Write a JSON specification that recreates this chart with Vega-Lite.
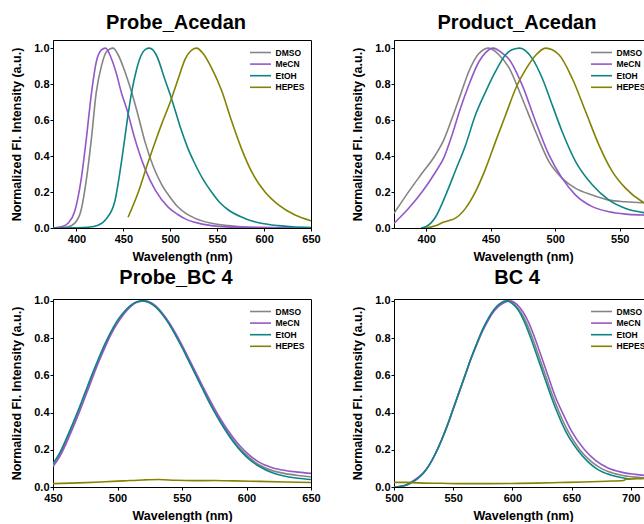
{
  "$schema": "https://vega.github.io/schema/vega-lite/v6.json",
  "padding": {"left": 10, "top": 12, "right": 0, "bottom": 0},
  "background": "white",
  "config": {
    "view": {"stroke": "black", "strokeWidth": 1},
    "font": "Liberation Sans",
    "axis": {
      "labelFont": "Liberation Sans", "labelFontWeight": "bold", "labelFontSize": 11, "labelColor": "black",
      "titleFont": "Liberation Sans", "titleFontWeight": "bold", "titleFontSize": 12.5, "titleColor": "black",
      "domainColor": "black", "tickColor": "black", "tickSize": 3, "grid": false, "labelPadding": 2,
      "labelFlush": false, "labelOverlap": false, "labelBound": false
    },
    "axisX": {"titlePadding": 6},
    "axisY": {"titlePadding": 10, "labelPadding": 1},
    "title": {"font": "Liberation Sans", "fontSize": 20, "fontWeight": "bold", "color": "black", "anchor": "middle", "frame": "group", "baseline": "alphabetic", "offset": 7, "dx": -6},
    "legend": {
      "orient": "top-right", "offset": 6, "padding": 0, "title": null,
      "symbolType": "M-2,0H2", "symbolSize": 110, "symbolStrokeWidth": 1.6,
      "labelFont": "Liberation Sans", "labelFontWeight": "bold", "labelFontSize": 8.5, "labelColor": "black",
      "labelOffset": 8.5, "rowPadding": 0.6
    },
    "line": {"strokeWidth": 1.6}
  },
  "datasets": {
    "A": [
      {"w":375,"v":0,"s":"DMSO"},{"w":390,"v":0.005,"s":"DMSO"},{"w":398,"v":0.026,"s":"DMSO"},{"w":405,"v":0.1,"s":"DMSO"},{"w":410.6,"v":0.27,"s":"DMSO"},{"w":416,"v":0.5,"s":"DMSO"},{"w":421,"v":0.75,"s":"DMSO"},{"w":426.6,"v":0.9,"s":"DMSO"},{"w":432,"v":0.98,"s":"DMSO"},{"w":439,"v":1.0,"s":"DMSO"},{"w":444.4,"v":0.963,"s":"DMSO"},{"w":451.6,"v":0.87,"s":"DMSO"},{"w":458.7,"v":0.757,"s":"DMSO"},{"w":466,"v":0.62,"s":"DMSO"},{"w":473,"v":0.48,"s":"DMSO"},{"w":482,"v":0.34,"s":"DMSO"},{"w":491,"v":0.24,"s":"DMSO"},{"w":500,"v":0.17,"s":"DMSO"},{"w":508,"v":0.118,"s":"DMSO"},{"w":517,"v":0.08,"s":"DMSO"},{"w":526,"v":0.055,"s":"DMSO"},{"w":544,"v":0.026,"s":"DMSO"},{"w":562,"v":0.013,"s":"DMSO"},{"w":580,"v":0.005,"s":"DMSO"},{"w":620,"v":0.001,"s":"DMSO"},{"w":650,"v":0,"s":"DMSO"},
      {"w":375,"v":0,"s":"MeCN"},{"w":385,"v":0.008,"s":"MeCN"},{"w":391,"v":0.026,"s":"MeCN"},{"w":398,"v":0.09,"s":"MeCN"},{"w":405,"v":0.27,"s":"MeCN"},{"w":410.6,"v":0.5,"s":"MeCN"},{"w":416,"v":0.75,"s":"MeCN"},{"w":421,"v":0.92,"s":"MeCN"},{"w":426.6,"v":0.99,"s":"MeCN"},{"w":431,"v":1.0,"s":"MeCN"},{"w":437,"v":0.945,"s":"MeCN"},{"w":443,"v":0.85,"s":"MeCN"},{"w":448,"v":0.75,"s":"MeCN"},{"w":454,"v":0.655,"s":"MeCN"},{"w":462,"v":0.5,"s":"MeCN"},{"w":473,"v":0.33,"s":"MeCN"},{"w":484,"v":0.21,"s":"MeCN"},{"w":498,"v":0.115,"s":"MeCN"},{"w":508,"v":0.075,"s":"MeCN"},{"w":517,"v":0.048,"s":"MeCN"},{"w":526,"v":0.032,"s":"MeCN"},{"w":544,"v":0.013,"s":"MeCN"},{"w":560,"v":0.006,"s":"MeCN"},{"w":600,"v":0.002,"s":"MeCN"},{"w":650,"v":0,"s":"MeCN"},
      {"w":375,"v":0,"s":"EtOH"},{"w":400,"v":0.001,"s":"EtOH"},{"w":412,"v":0.004,"s":"EtOH"},{"w":423,"v":0.015,"s":"EtOH"},{"w":432,"v":0.052,"s":"EtOH"},{"w":441,"v":0.15,"s":"EtOH"},{"w":446,"v":0.3,"s":"EtOH"},{"w":451,"v":0.48,"s":"EtOH"},{"w":455,"v":0.63,"s":"EtOH"},{"w":459,"v":0.76,"s":"EtOH"},{"w":464,"v":0.88,"s":"EtOH"},{"w":469,"v":0.96,"s":"EtOH"},{"w":473.5,"v":0.993,"s":"EtOH"},{"w":478,"v":1.0,"s":"EtOH"},{"w":485,"v":0.963,"s":"EtOH"},{"w":494,"v":0.83,"s":"EtOH"},{"w":500,"v":0.74,"s":"EtOH"},{"w":506,"v":0.64,"s":"EtOH"},{"w":512,"v":0.54,"s":"EtOH"},{"w":519,"v":0.44,"s":"EtOH"},{"w":526,"v":0.36,"s":"EtOH"},{"w":535,"v":0.27,"s":"EtOH"},{"w":544,"v":0.2,"s":"EtOH"},{"w":553,"v":0.14,"s":"EtOH"},{"w":562,"v":0.1,"s":"EtOH"},{"w":580,"v":0.052,"s":"EtOH"},{"w":597,"v":0.026,"s":"EtOH"},{"w":615,"v":0.013,"s":"EtOH"},{"w":630,"v":0.007,"s":"EtOH"},{"w":650,"v":0.003,"s":"EtOH"},
      {"w":455,"v":0.06,"s":"HEPES"},{"w":466,"v":0.2,"s":"HEPES"},{"w":476,"v":0.36,"s":"HEPES"},{"w":484,"v":0.48,"s":"HEPES"},{"w":491,"v":0.58,"s":"HEPES"},{"w":500,"v":0.7,"s":"HEPES"},{"w":508.5,"v":0.83,"s":"HEPES"},{"w":516,"v":0.94,"s":"HEPES"},{"w":522,"v":0.985,"s":"HEPES"},{"w":528,"v":1.0,"s":"HEPES"},{"w":535,"v":0.97,"s":"HEPES"},{"w":544,"v":0.89,"s":"HEPES"},{"w":555,"v":0.76,"s":"HEPES"},{"w":565,"v":0.6,"s":"HEPES"},{"w":576,"v":0.44,"s":"HEPES"},{"w":587,"v":0.31,"s":"HEPES"},{"w":601,"v":0.2,"s":"HEPES"},{"w":615,"v":0.13,"s":"HEPES"},{"w":633,"v":0.072,"s":"HEPES"},{"w":650,"v":0.04,"s":"HEPES"}
    ],
    "B": [
      {"w":375,"v":0.081,"s":"DMSO"},{"w":386.4,"v":0.202,"s":"DMSO"},{"w":396.7,"v":0.304,"s":"DMSO"},{"w":407.1,"v":0.406,"s":"DMSO"},{"w":413.6,"v":0.49,"s":"DMSO"},{"w":420,"v":0.61,"s":"DMSO"},{"w":426.5,"v":0.74,"s":"DMSO"},{"w":433,"v":0.87,"s":"DMSO"},{"w":440.8,"v":0.97,"s":"DMSO"},{"w":448.5,"v":1.0,"s":"DMSO"},{"w":456.3,"v":0.963,"s":"DMSO"},{"w":464,"v":0.893,"s":"DMSO"},{"w":474.4,"v":0.72,"s":"DMSO"},{"w":484.8,"v":0.535,"s":"DMSO"},{"w":495.1,"v":0.369,"s":"DMSO"},{"w":505.4,"v":0.276,"s":"DMSO"},{"w":515.8,"v":0.22,"s":"DMSO"},{"w":528.7,"v":0.183,"s":"DMSO"},{"w":541.7,"v":0.155,"s":"DMSO"},{"w":554.6,"v":0.146,"s":"DMSO"},{"w":567.5,"v":0.14,"s":"DMSO"},{"w":580,"v":0.136,"s":"DMSO"},
      {"w":375,"v":0.026,"s":"MeCN"},{"w":386.4,"v":0.11,"s":"MeCN"},{"w":396.7,"v":0.2,"s":"MeCN"},{"w":407.1,"v":0.31,"s":"MeCN"},{"w":413.6,"v":0.39,"s":"MeCN"},{"w":420,"v":0.517,"s":"MeCN"},{"w":426.5,"v":0.665,"s":"MeCN"},{"w":433,"v":0.795,"s":"MeCN"},{"w":440.8,"v":0.924,"s":"MeCN"},{"w":446,"v":0.975,"s":"MeCN"},{"w":452,"v":1.0,"s":"MeCN"},{"w":458.9,"v":0.972,"s":"MeCN"},{"w":464,"v":0.94,"s":"MeCN"},{"w":474.4,"v":0.794,"s":"MeCN"},{"w":484.8,"v":0.591,"s":"MeCN"},{"w":495.1,"v":0.406,"s":"MeCN"},{"w":505.4,"v":0.276,"s":"MeCN"},{"w":515.8,"v":0.183,"s":"MeCN"},{"w":528.7,"v":0.119,"s":"MeCN"},{"w":541.7,"v":0.09,"s":"MeCN"},{"w":554.6,"v":0.077,"s":"MeCN"},{"w":567.5,"v":0.072,"s":"MeCN"},{"w":580,"v":0.069,"s":"MeCN"},
      {"w":396,"v":0,"s":"EtOH"},{"w":400,"v":0.008,"s":"EtOH"},{"w":407.1,"v":0.06,"s":"EtOH"},{"w":414.9,"v":0.18,"s":"EtOH"},{"w":422.7,"v":0.32,"s":"EtOH"},{"w":430.4,"v":0.459,"s":"EtOH"},{"w":438.2,"v":0.63,"s":"EtOH"},{"w":446,"v":0.757,"s":"EtOH"},{"w":453.7,"v":0.87,"s":"EtOH"},{"w":461.5,"v":0.963,"s":"EtOH"},{"w":467,"v":0.992,"s":"EtOH"},{"w":472.5,"v":1.0,"s":"EtOH"},{"w":482.1,"v":0.943,"s":"EtOH"},{"w":490,"v":0.831,"s":"EtOH"},{"w":497.7,"v":0.683,"s":"EtOH"},{"w":505.4,"v":0.535,"s":"EtOH"},{"w":515.8,"v":0.369,"s":"EtOH"},{"w":528.7,"v":0.24,"s":"EtOH"},{"w":541.7,"v":0.155,"s":"EtOH"},{"w":554.6,"v":0.109,"s":"EtOH"},{"w":567.5,"v":0.087,"s":"EtOH"},{"w":580,"v":0.076,"s":"EtOH"},
      {"w":400,"v":0,"s":"HEPES"},{"w":407.1,"v":0.012,"s":"HEPES"},{"w":413.6,"v":0.033,"s":"HEPES"},{"w":418,"v":0.042,"s":"HEPES"},{"w":422.7,"v":0.055,"s":"HEPES"},{"w":430.4,"v":0.109,"s":"HEPES"},{"w":438.2,"v":0.202,"s":"HEPES"},{"w":446,"v":0.33,"s":"HEPES"},{"w":453.7,"v":0.48,"s":"HEPES"},{"w":461.5,"v":0.628,"s":"HEPES"},{"w":470.5,"v":0.795,"s":"HEPES"},{"w":477,"v":0.88,"s":"HEPES"},{"w":484.8,"v":0.96,"s":"HEPES"},{"w":492.5,"v":1.0,"s":"HEPES"},{"w":502.9,"v":0.963,"s":"HEPES"},{"w":513.2,"v":0.831,"s":"HEPES"},{"w":523.6,"v":0.646,"s":"HEPES"},{"w":533.9,"v":0.461,"s":"HEPES"},{"w":544.3,"v":0.313,"s":"HEPES"},{"w":554.6,"v":0.22,"s":"HEPES"},{"w":567.5,"v":0.146,"s":"HEPES"},{"w":580,"v":0.11,"s":"HEPES"}
    ],
    "C": [
      {"w":450,"v":0.118,"s":"DMSO"},{"w":455,"v":0.172,"s":"DMSO"},{"w":460,"v":0.245,"s":"DMSO"},{"w":465,"v":0.325,"s":"DMSO"},{"w":470,"v":0.41,"s":"DMSO"},{"w":475,"v":0.5,"s":"DMSO"},{"w":480,"v":0.59,"s":"DMSO"},{"w":485,"v":0.677,"s":"DMSO"},{"w":490,"v":0.758,"s":"DMSO"},{"w":495,"v":0.83,"s":"DMSO"},{"w":500,"v":0.89,"s":"DMSO"},{"w":505,"v":0.937,"s":"DMSO"},{"w":510,"v":0.973,"s":"DMSO"},{"w":515,"v":0.994,"s":"DMSO"},{"w":520,"v":1.0,"s":"DMSO"},{"w":525,"v":0.99,"s":"DMSO"},{"w":530,"v":0.966,"s":"DMSO"},{"w":535,"v":0.927,"s":"DMSO"},{"w":540,"v":0.878,"s":"DMSO"},{"w":545,"v":0.819,"s":"DMSO"},{"w":550,"v":0.755,"s":"DMSO"},{"w":555,"v":0.686,"s":"DMSO"},{"w":560,"v":0.616,"s":"DMSO"},{"w":565,"v":0.546,"s":"DMSO"},{"w":570,"v":0.478,"s":"DMSO"},{"w":575,"v":0.413,"s":"DMSO"},{"w":580,"v":0.353,"s":"DMSO"},{"w":585,"v":0.298,"s":"DMSO"},{"w":590,"v":0.249,"s":"DMSO"},{"w":595,"v":0.207,"s":"DMSO"},{"w":600,"v":0.171,"s":"DMSO"},{"w":610,"v":0.118,"s":"DMSO"},{"w":620,"v":0.088,"s":"DMSO"},{"w":630,"v":0.072,"s":"DMSO"},{"w":640,"v":0.062,"s":"DMSO"},{"w":650,"v":0.055,"s":"DMSO"},
      {"w":450,"v":0.11,"s":"MeCN"},{"w":455,"v":0.16,"s":"MeCN"},{"w":460,"v":0.23,"s":"MeCN"},{"w":465,"v":0.31,"s":"MeCN"},{"w":470,"v":0.395,"s":"MeCN"},{"w":475,"v":0.485,"s":"MeCN"},{"w":480,"v":0.575,"s":"MeCN"},{"w":485,"v":0.665,"s":"MeCN"},{"w":490,"v":0.745,"s":"MeCN"},{"w":495,"v":0.82,"s":"MeCN"},{"w":500,"v":0.88,"s":"MeCN"},{"w":505,"v":0.93,"s":"MeCN"},{"w":510,"v":0.968,"s":"MeCN"},{"w":515,"v":0.992,"s":"MeCN"},{"w":521,"v":1.0,"s":"MeCN"},{"w":526,"v":0.99,"s":"MeCN"},{"w":530,"v":0.97,"s":"MeCN"},{"w":535,"v":0.932,"s":"MeCN"},{"w":540,"v":0.884,"s":"MeCN"},{"w":545,"v":0.826,"s":"MeCN"},{"w":550,"v":0.762,"s":"MeCN"},{"w":555,"v":0.694,"s":"MeCN"},{"w":560,"v":0.625,"s":"MeCN"},{"w":565,"v":0.556,"s":"MeCN"},{"w":570,"v":0.488,"s":"MeCN"},{"w":575,"v":0.424,"s":"MeCN"},{"w":580,"v":0.364,"s":"MeCN"},{"w":585,"v":0.31,"s":"MeCN"},{"w":590,"v":0.262,"s":"MeCN"},{"w":595,"v":0.22,"s":"MeCN"},{"w":600,"v":0.185,"s":"MeCN"},{"w":610,"v":0.132,"s":"MeCN"},{"w":620,"v":0.104,"s":"MeCN"},{"w":630,"v":0.089,"s":"MeCN"},{"w":640,"v":0.08,"s":"MeCN"},{"w":650,"v":0.073,"s":"MeCN"},
      {"w":450,"v":0.126,"s":"EtOH"},{"w":455,"v":0.18,"s":"EtOH"},{"w":460,"v":0.255,"s":"EtOH"},{"w":465,"v":0.335,"s":"EtOH"},{"w":470,"v":0.42,"s":"EtOH"},{"w":475,"v":0.51,"s":"EtOH"},{"w":480,"v":0.6,"s":"EtOH"},{"w":485,"v":0.685,"s":"EtOH"},{"w":490,"v":0.765,"s":"EtOH"},{"w":495,"v":0.835,"s":"EtOH"},{"w":500,"v":0.895,"s":"EtOH"},{"w":505,"v":0.94,"s":"EtOH"},{"w":510,"v":0.975,"s":"EtOH"},{"w":515,"v":0.995,"s":"EtOH"},{"w":520,"v":1.0,"s":"EtOH"},{"w":525,"v":0.99,"s":"EtOH"},{"w":530,"v":0.965,"s":"EtOH"},{"w":535,"v":0.925,"s":"EtOH"},{"w":540,"v":0.875,"s":"EtOH"},{"w":545,"v":0.815,"s":"EtOH"},{"w":550,"v":0.75,"s":"EtOH"},{"w":555,"v":0.68,"s":"EtOH"},{"w":560,"v":0.61,"s":"EtOH"},{"w":565,"v":0.54,"s":"EtOH"},{"w":570,"v":0.47,"s":"EtOH"},{"w":575,"v":0.405,"s":"EtOH"},{"w":580,"v":0.345,"s":"EtOH"},{"w":585,"v":0.29,"s":"EtOH"},{"w":590,"v":0.24,"s":"EtOH"},{"w":595,"v":0.198,"s":"EtOH"},{"w":600,"v":0.162,"s":"EtOH"},{"w":610,"v":0.11,"s":"EtOH"},{"w":620,"v":0.077,"s":"EtOH"},{"w":630,"v":0.058,"s":"EtOH"},{"w":640,"v":0.047,"s":"EtOH"},{"w":650,"v":0.04,"s":"EtOH"},
      {"w":450,"v":0.018,"s":"HEPES"},{"w":470,"v":0.022,"s":"HEPES"},{"w":490,"v":0.028,"s":"HEPES"},{"w":505,"v":0.033,"s":"HEPES"},{"w":520,"v":0.038,"s":"HEPES"},{"w":532,"v":0.04,"s":"HEPES"},{"w":545,"v":0.036,"s":"HEPES"},{"w":560,"v":0.034,"s":"HEPES"},{"w":575,"v":0.035,"s":"HEPES"},{"w":590,"v":0.033,"s":"HEPES"},{"w":610,"v":0.03,"s":"HEPES"},{"w":630,"v":0.027,"s":"HEPES"},{"w":650,"v":0.024,"s":"HEPES"}
    ],
    "D": [
      {"w":500,"v":0,"s":"DMSO"},{"w":505,"v":0.003,"s":"DMSO"},{"w":510,"v":0.01,"s":"DMSO"},{"w":515,"v":0.026,"s":"DMSO"},{"w":520,"v":0.047,"s":"DMSO"},{"w":525,"v":0.077,"s":"DMSO"},{"w":530,"v":0.12,"s":"DMSO"},{"w":535,"v":0.18,"s":"DMSO"},{"w":540,"v":0.25,"s":"DMSO"},{"w":545,"v":0.33,"s":"DMSO"},{"w":550,"v":0.42,"s":"DMSO"},{"w":555,"v":0.51,"s":"DMSO"},{"w":560,"v":0.6,"s":"DMSO"},{"w":565,"v":0.69,"s":"DMSO"},{"w":570,"v":0.77,"s":"DMSO"},{"w":575,"v":0.845,"s":"DMSO"},{"w":580,"v":0.905,"s":"DMSO"},{"w":585,"v":0.953,"s":"DMSO"},{"w":590,"v":0.982,"s":"DMSO"},{"w":597,"v":1.0,"s":"DMSO"},{"w":602,"v":0.98,"s":"DMSO"},{"w":607,"v":0.94,"s":"DMSO"},{"w":612,"v":0.88,"s":"DMSO"},{"w":617,"v":0.8,"s":"DMSO"},{"w":622,"v":0.71,"s":"DMSO"},{"w":628,"v":0.6,"s":"DMSO"},{"w":634,"v":0.49,"s":"DMSO"},{"w":640,"v":0.395,"s":"DMSO"},{"w":647,"v":0.3,"s":"DMSO"},{"w":657,"v":0.2,"s":"DMSO"},{"w":666,"v":0.14,"s":"DMSO"},{"w":675,"v":0.1,"s":"DMSO"},{"w":686,"v":0.072,"s":"DMSO"},{"w":697,"v":0.058,"s":"DMSO"},{"w":710,"v":0.05,"s":"DMSO"},{"w":720,"v":0.045,"s":"DMSO"},
      {"w":500,"v":0,"s":"MeCN"},{"w":505,"v":0.003,"s":"MeCN"},{"w":510,"v":0.011,"s":"MeCN"},{"w":515,"v":0.028,"s":"MeCN"},{"w":520,"v":0.05,"s":"MeCN"},{"w":525,"v":0.078,"s":"MeCN"},{"w":530,"v":0.12,"s":"MeCN"},{"w":535,"v":0.178,"s":"MeCN"},{"w":540,"v":0.248,"s":"MeCN"},{"w":545,"v":0.328,"s":"MeCN"},{"w":550,"v":0.417,"s":"MeCN"},{"w":555,"v":0.507,"s":"MeCN"},{"w":560,"v":0.597,"s":"MeCN"},{"w":565,"v":0.686,"s":"MeCN"},{"w":570,"v":0.766,"s":"MeCN"},{"w":575,"v":0.84,"s":"MeCN"},{"w":580,"v":0.9,"s":"MeCN"},{"w":585,"v":0.948,"s":"MeCN"},{"w":590,"v":0.978,"s":"MeCN"},{"w":598,"v":1.0,"s":"MeCN"},{"w":604,"v":0.98,"s":"MeCN"},{"w":609,"v":0.94,"s":"MeCN"},{"w":614,"v":0.88,"s":"MeCN"},{"w":619,"v":0.8,"s":"MeCN"},{"w":624,"v":0.71,"s":"MeCN"},{"w":630,"v":0.6,"s":"MeCN"},{"w":636,"v":0.49,"s":"MeCN"},{"w":643,"v":0.39,"s":"MeCN"},{"w":650,"v":0.3,"s":"MeCN"},{"w":661,"v":0.2,"s":"MeCN"},{"w":670,"v":0.145,"s":"MeCN"},{"w":680,"v":0.105,"s":"MeCN"},{"w":692,"v":0.08,"s":"MeCN"},{"w":704,"v":0.068,"s":"MeCN"},{"w":712,"v":0.062,"s":"MeCN"},{"w":720,"v":0.058,"s":"MeCN"},
      {"w":500,"v":0,"s":"EtOH"},{"w":505,"v":0.002,"s":"EtOH"},{"w":510,"v":0.009,"s":"EtOH"},{"w":515,"v":0.024,"s":"EtOH"},{"w":520,"v":0.045,"s":"EtOH"},{"w":525,"v":0.075,"s":"EtOH"},{"w":530,"v":0.12,"s":"EtOH"},{"w":535,"v":0.18,"s":"EtOH"},{"w":540,"v":0.25,"s":"EtOH"},{"w":545,"v":0.33,"s":"EtOH"},{"w":550,"v":0.42,"s":"EtOH"},{"w":555,"v":0.51,"s":"EtOH"},{"w":560,"v":0.6,"s":"EtOH"},{"w":565,"v":0.69,"s":"EtOH"},{"w":570,"v":0.772,"s":"EtOH"},{"w":575,"v":0.848,"s":"EtOH"},{"w":580,"v":0.91,"s":"EtOH"},{"w":585,"v":0.958,"s":"EtOH"},{"w":590,"v":0.988,"s":"EtOH"},{"w":595,"v":1.0,"s":"EtOH"},{"w":600,"v":0.985,"s":"EtOH"},{"w":605,"v":0.95,"s":"EtOH"},{"w":610,"v":0.89,"s":"EtOH"},{"w":615,"v":0.81,"s":"EtOH"},{"w":620,"v":0.72,"s":"EtOH"},{"w":626,"v":0.61,"s":"EtOH"},{"w":632,"v":0.5,"s":"EtOH"},{"w":638,"v":0.4,"s":"EtOH"},{"w":645,"v":0.3,"s":"EtOH"},{"w":655,"v":0.2,"s":"EtOH"},{"w":664,"v":0.135,"s":"EtOH"},{"w":672,"v":0.095,"s":"EtOH"},{"w":683,"v":0.065,"s":"EtOH"},{"w":694,"v":0.048,"s":"EtOH"},{"w":700,"v":0.042,"s":"EtOH"},
      {"w":500,"v":0.025,"s":"HEPES"},{"w":510,"v":0.025,"s":"HEPES"},{"w":520,"v":0.022,"s":"HEPES"},{"w":540,"v":0.02,"s":"HEPES"},{"w":560,"v":0.018,"s":"HEPES"},{"w":580,"v":0.018,"s":"HEPES"},{"w":600,"v":0.019,"s":"HEPES"},{"w":620,"v":0.021,"s":"HEPES"},{"w":640,"v":0.024,"s":"HEPES"},{"w":660,"v":0.027,"s":"HEPES"},{"w":680,"v":0.031,"s":"HEPES"},{"w":694,"v":0.035,"s":"HEPES"},{"w":696,"v":0.042,"s":"HEPES"},{"w":705,"v":0.044,"s":"HEPES"},{"w":720,"v":0.047,"s":"HEPES"}
    ]
  },
  "columns": 2,
  "spacing": {"row": 71, "column": 83},
  "bounds": "flush",
  "resolve": {"legend": {"color": "independent"}, "scale": {"x": "independent", "y": "independent"}},
  "concat": [
    {
      "title": "Probe_Acedan",
      "width": 258, "height": 188,
      "data": {"name": "A"},
      "mark": {"type": "line", "interpolate": "monotone", "clip": true},
      "encoding": {
        "x": {"field": "w", "type": "quantitative", "scale": {"domain": [375, 650], "nice": false, "zero": false}, "axis": {"values": [400, 450, 500, 550, 600, 650], "title": "Wavelength (nm)"}},
        "y": {"field": "v", "type": "quantitative", "scale": {"domain": [0, 1.045], "nice": false}, "axis": {"values": [0, 0.2, 0.4, 0.6, 0.8, 1.0], "format": ".1f", "title": "Normalized Fl. Intensity (a.u.)"}},
        "color": {"field": "s", "type": "nominal", "scale": {"domain": ["DMSO", "MeCN", "EtOH", "HEPES"], "range": ["#858585", "#9457c9", "#0e8585", "#848200"]}}
      }
    },
    {
      "title": "Product_Acedan",
      "width": 258, "height": 188,
      "data": {"name": "B"},
      "mark": {"type": "line", "interpolate": "monotone", "clip": true},
      "encoding": {
        "x": {"field": "w", "type": "quantitative", "scale": {"domain": [375, 575], "nice": false, "zero": false}, "axis": {"values": [400, 450, 500, 550], "title": "Wavelength (nm)"}},
        "y": {"field": "v", "type": "quantitative", "scale": {"domain": [0, 1.045], "nice": false}, "axis": {"values": [0, 0.2, 0.4, 0.6, 0.8, 1.0], "format": ".1f", "title": "Normalized Fl. Intensity (a.u.)"}},
        "color": {"field": "s", "type": "nominal", "scale": {"domain": ["DMSO", "MeCN", "EtOH", "HEPES"], "range": ["#858585", "#9457c9", "#0e8585", "#848200"]}}
      }
    },
    {
      "title": "Probe_BC 4",
      "width": 258, "height": 188,
      "data": {"name": "C"},
      "mark": {"type": "line", "interpolate": "monotone", "clip": true},
      "encoding": {
        "x": {"field": "w", "type": "quantitative", "scale": {"domain": [450, 650], "nice": false, "zero": false}, "axis": {"values": [450, 500, 550, 600, 650], "title": "Wavelength (nm)"}},
        "y": {"field": "v", "type": "quantitative", "scale": {"domain": [0, 1.01], "nice": false}, "axis": {"values": [0, 0.2, 0.4, 0.6, 0.8, 1.0], "format": ".1f", "title": "Normalized Fl. Intensity (a.u.)"}},
        "color": {"field": "s", "type": "nominal", "scale": {"domain": ["DMSO", "MeCN", "EtOH", "HEPES"], "range": ["#858585", "#9457c9", "#0e8585", "#848200"]}}
      }
    },
    {
      "title": "BC 4",
      "width": 258, "height": 188,
      "data": {"name": "D"},
      "mark": {"type": "line", "interpolate": "monotone", "clip": true},
      "encoding": {
        "x": {"field": "w", "type": "quantitative", "scale": {"domain": [500, 718], "nice": false, "zero": false}, "axis": {"values": [500, 550, 600, 650, 700], "title": "Wavelength (nm)"}},
        "y": {"field": "v", "type": "quantitative", "scale": {"domain": [0, 1.01], "nice": false}, "axis": {"values": [0, 0.2, 0.4, 0.6, 0.8, 1.0], "format": ".1f", "title": "Normalized Fl. Intensity (a.u.)"}},
        "color": {"field": "s", "type": "nominal", "scale": {"domain": ["DMSO", "MeCN", "EtOH", "HEPES"], "range": ["#858585", "#9457c9", "#0e8585", "#848200"]}}
      }
    }
  ]
}
